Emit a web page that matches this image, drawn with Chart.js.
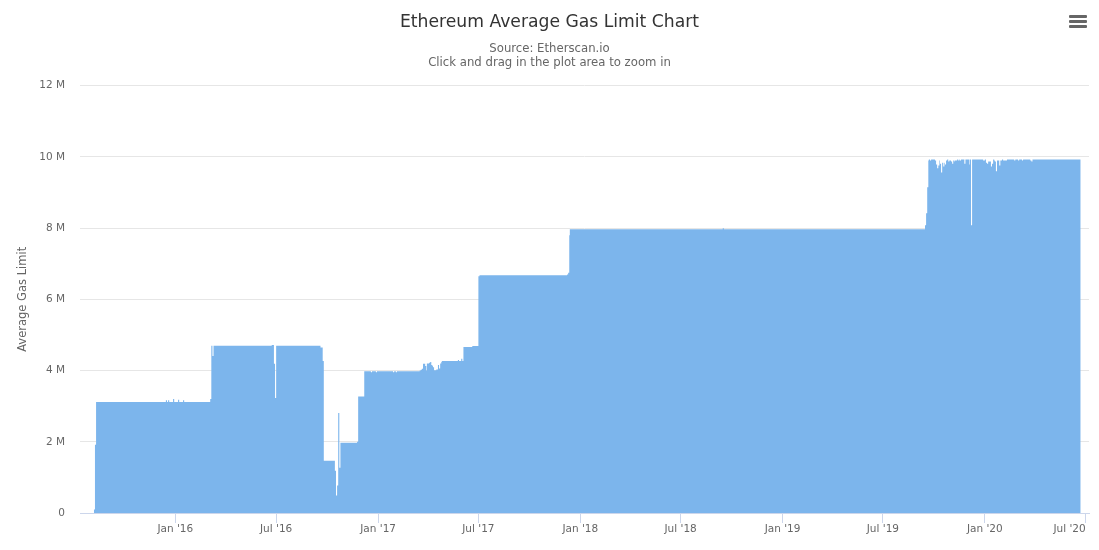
<!DOCTYPE html>
<html lang="en">
<head>
    <meta charset="UTF-8">
    <title>Ethereum Average Gas Limit Chart</title>
    <script src="https://cdn.jsdelivr.net/npm/chart.js"></script>
    <style>
        body {
            margin: 0;
            background: #fff;
        }
        #wrap {
            position: relative;
            width: 1099px;
            height: 550px;
        }
        .menu-bar {
            position: absolute;
            left: 1069px;
            width: 18px;
            height: 3px;
            border-radius: 1px;
            background: #666;
        }
    </style>
</head>
<body>
    <div id="wrap">
        <canvas id="gasChart" width="1099" height="550"></canvas>
        <div class="menu-bar" style="top: 15px"></div>
        <div class="menu-bar" style="top: 20px"></div>
        <div class="menu-bar" style="top: 25px"></div>
    </div>

    <script>
        // Values, in millions of gas. Each one holds until the next date.
        const gasDates = [
            '2015-08-07', '2015-08-09', '2015-08-11', '2015-12-15', '2015-12-17', '2015-12-19', '2015-12-21',
            '2015-12-28', '2015-12-30', '2016-01-06', '2016-01-08', '2016-01-15', '2016-01-17',
            '2016-03-04', '2016-03-06', '2016-03-08', '2016-03-10',
            '2016-06-23', '2016-06-27', '2016-06-29', '2016-07-01',
            '2016-09-19', '2016-09-23', '2016-09-25', '2016-10-15', '2016-10-17', '2016-10-19',
            '2016-10-21', '2016-10-23', '2016-10-25', '2016-11-24', '2016-11-26',
            '2016-12-07', '2016-12-19', '2016-12-21', '2016-12-28', '2016-12-30',
            '2017-01-28', '2017-01-30', '2017-02-02', '2017-02-04',
            '2017-03-17', '2017-03-19', '2017-03-21', '2017-03-23', '2017-03-27', '2017-03-29', '2017-03-30',
            '2017-04-03', '2017-04-05', '2017-04-07', '2017-04-09', '2017-04-10', '2017-04-12', '2017-04-16',
            '2017-04-19', '2017-04-21', '2017-04-23', '2017-04-25', '2017-04-26',
            '2017-05-25', '2017-05-27', '2017-05-31', '2017-06-02', '2017-06-04', '2017-06-20',
            '2017-07-01', '2017-07-03', '2017-12-08', '2017-12-10', '2017-12-12', '2017-12-13',
            '2018-09-15', '2018-09-17',
            '2019-09-15', '2019-09-17', '2019-09-19', '2019-09-21', '2019-09-22', '2019-09-24', '2019-09-26',
            '2019-10-03', '2019-10-05', '2019-10-07', '2019-10-09', '2019-10-11', '2019-10-12', '2019-10-14',
            '2019-10-16', '2019-10-18', '2019-10-20', '2019-10-21', '2019-10-23', '2019-10-25', '2019-10-27',
            '2019-10-29', '2019-11-01', '2019-11-03', '2019-11-05', '2019-11-07', '2019-11-08', '2019-11-12',
            '2019-11-14', '2019-11-16', '2019-11-17', '2019-11-19', '2019-11-25', '2019-11-27',
            '2019-12-04', '2019-12-05', '2019-12-07', '2019-12-09', '2019-12-29',
            '2020-01-01', '2020-01-03', '2020-01-05', '2020-01-07', '2020-01-12', '2020-01-14', '2020-01-16',
            '2020-01-18', '2020-01-19', '2020-01-21', '2020-01-23', '2020-01-27', '2020-01-29',
            '2020-02-01', '2020-02-03', '2020-02-10', '2020-02-23', '2020-02-25',
            '2020-03-01', '2020-03-03', '2020-03-08', '2020-03-10', '2020-03-23', '2020-03-25', '2020-03-27',
            '2020-06-22'
        ];
        const gasLimitM = [
            0.1, 1.92, 3.12, 3.17, 3.12, 3.17, 3.12,
            3.2, 3.12, 3.18, 3.12, 3.17, 3.12,
            3.2, 4.7, 4.41, 4.7,
            4.72, 4.19, 3.23, 4.7,
            4.65, 4.27, 1.47, 1.19, 0.49, 0.77,
            2.81, 1.27, 1.97, 2.0, 3.27,
            3.98, 3.95, 3.98, 3.95, 3.98,
            3.95, 3.98, 3.95, 3.98,
            4.0, 4.02, 4.05, 4.19, 4.13, 4.0, 4.2,
            4.22, 4.24, 4.16, 4.13, 4.09, 4.01, 4.03,
            4.16, 4.06, 4.2, 4.24, 4.27,
            4.3, 4.27, 4.33, 4.27, 4.66, 4.69,
            6.65, 6.68, 6.7, 6.75, 7.8, 7.97,
            8.0, 7.97,
            8.08, 8.42, 9.15, 9.9, 9.93, 9.9, 9.93,
            9.9, 9.79, 9.68, 9.76, 9.9, 9.81, 9.56,
            9.84, 9.73, 9.84, 9.79, 9.9, 9.93, 9.87,
            9.9, 9.87, 9.81, 9.9, 9.87, 9.9, 9.93,
            9.9, 9.93, 9.9, 9.93, 9.81, 9.93,
            9.79, 9.93, 8.08, 9.93, 9.9,
            9.93, 9.84, 9.81, 9.87, 9.73, 9.81, 9.93,
            9.9, 9.87, 9.6, 9.9, 9.76, 9.9,
            9.93, 9.9, 9.93, 9.9, 9.93,
            9.9, 9.93, 9.9, 9.93, 9.9, 9.87, 9.93,
            9.93
        ];
        const tickDates = ['2016-01-01', '2016-07-01', '2017-01-01', '2017-07-01', '2018-01-01', '2018-07-01',
            '2019-01-01', '2019-07-01', '2020-01-01', '2020-07-01'];
        const tickLabels = ["Jan '16", "Jul '16", "Jan '17", "Jul '17", "Jan '18", "Jul '18",
            "Jan '19", "Jul '19", "Jan '20", "Jul '20"];
        const axisStart = '2015-07-13';
        const axisEnd = '2020-07-07';

        const toTime = d => Date.parse(d + 'T00:00:00Z');
        const fontName = '"DejaVu Sans", sans-serif';

        new Chart(document.getElementById('gasChart').getContext('2d'), {
            type: 'line',
            data: {
                datasets: [{
                    label: 'Average Gas Limit',
                    data: gasDates.map((d, i) => ({ x: toTime(d), y: gasLimitM[i] })),
                    backgroundColor: '#7cb5ec',
                    borderWidth: 0,
                    pointRadius: 0,
                    fill: 'origin',
                    stepped: true
                }]
            },
            options: {
                responsive: false,
                animation: false,
                plugins: {
                    legend: { display: false },
                    tooltip: { enabled: false },
                    title: {
                        display: true,
                        text: 'Ethereum Average Gas Limit Chart',
                        color: '#333',
                        font: { family: fontName, size: 17.2, weight: 'normal' },
                        padding: { top: 12, bottom: 9 }
                    },
                    subtitle: {
                        display: true,
                        text: ['Source: Etherscan.io', 'Click and drag in the plot area to zoom in'],
                        color: '#666',
                        font: { family: fontName, size: 11.7, weight: 'normal', lineHeight: 1.2 },
                        padding: { top: 0, bottom: 16 }
                    }
                },
                scales: {
                    x: {
                        type: 'linear',
                        min: toTime(axisStart),
                        max: toTime(axisEnd),
                        // blank first tick so that 'inner' only pushes the last label left
                        afterBuildTicks: axis => {
                            axis.ticks = [toTime(axisStart), ...tickDates.map(toTime)].map(v => ({ value: v }));
                        },
                        afterFit: axis => {
                            axis.height = 37;
                            axis.paddingRight = 10;
                        },
                        ticks: {
                            autoSkip: false,
                            maxRotation: 0,
                            align: 'inner',
                            padding: 0,
                            color: '#666',
                            font: { family: fontName, size: 10.5 },
                            callback: (value, index) => index === 0 ? '' : tickLabels[index - 1]
                        },
                        border: { color: '#ccd6eb' },
                        grid: {
                            drawOnChartArea: false,
                            drawTicks: true,
                            tickLength: 10,
                            tickColor: ctx => ctx.index === 0 ? 'transparent' : '#ccd6eb'
                        }
                    },
                    y: {
                        min: 0,
                        max: 12,
                        afterFit: axis => {
                            axis.width = 80;
                        },
                        ticks: {
                            stepSize: 2,
                            padding: 15,
                            color: '#666',
                            font: { family: fontName, size: 10.5 },
                            callback: value => value === 0 ? '0' : value + ' M'
                        },
                        title: {
                            display: true,
                            text: 'Average Gas Limit',
                            color: '#666',
                            font: { family: fontName, size: 11.5 },
                            padding: { top: 16, bottom: 0 }
                        },
                        border: { display: false },
                        grid: {
                            color: '#e6e6e6',
                            drawTicks: false
                        }
                    }
                }
            }
        });
    </script>
</body>
</html>
